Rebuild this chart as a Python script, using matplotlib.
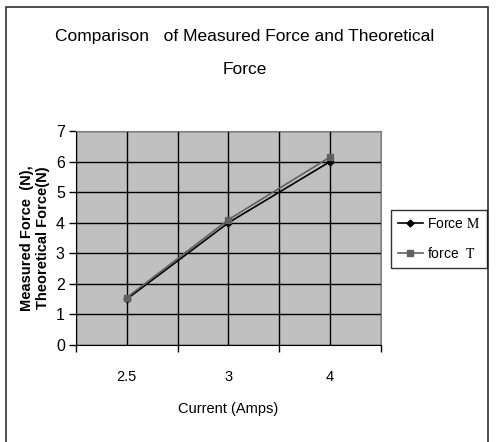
import matplotlib
matplotlib.use("Agg")
import matplotlib.pyplot as plt
from matplotlib.patches import Rectangle

# data
current = ["2.5", "3", "4"]
force_m = [1.5, 4.0, 6.0]
force_t = [1.55, 4.1, 6.15]

plt.rcParams['font.family'] = ['Liberation Sans', 'DejaVu Sans']
plt.rcParams['mathtext.fontset'] = 'stix'

fig = plt.figure(figsize=(4.96, 4.42), dpi=100)
ax = fig.add_axes([0.153, 0.2195, 0.615, 0.484])
ax.set_facecolor('#c0c0c0')

x = list(range(len(current)))
ax.plot(x, force_m, color='black', lw=1.2, marker='D', ms=3.5,
        label='Force $\\mathrm{M}$', zorder=3)
ax.plot(x, force_t, color='#606060', lw=1.2, marker='s', ms=5,
        label='force  $\\mathrm{T}$', zorder=3)

ax.set_xlim(-0.5, len(current) - 0.5)
ax.set_ylim(0, 7)
ax.set_yticks(range(0, 8))
ax.set_xticks([i - 0.5 for i in range(len(current) + 1)])
ax.set_xticklabels([])
ax.set_xticks(x, minor=True)
ax.set_xticklabels(current, minor=True)
ax.tick_params(axis='x', which='major', length=5, width=1, color='black', direction='out')
ax.tick_params(axis='x', which='minor', length=0, pad=18, labelsize=10.5)
ax.tick_params(axis='y', length=5, width=1, direction='out', labelsize=11.5, pad=3)

ax.grid(True, which='both', color='black', lw=1)
ax.set_axisbelow(True)
for s in ['top', 'right']:
    ax.spines[s].set_color('#808080')
for s in ['left', 'bottom']:
    ax.spines[s].set_color('black')

ax.set_xlabel('Current (Amps)', fontsize=10.5, labelpad=13)
ax.set_ylabel('Measured Force  (N),\nTheoretical Force(N)', fontsize=10.5,
              fontweight='bold', labelpad=4)

fig.text(0.494, 0.879, 'Comparison   of Measured Force and Theoretical\nForce',
         ha='center', va='center', fontsize=12.5, linespacing=2.5)

leg = fig.legend(loc='center', bbox_to_anchor=(0.885, 0.459), frameon=True,
                 fancybox=False, edgecolor='black', fontsize=10, handlelength=1.8,
                 borderpad=0.5, labelspacing=1.05, handletextpad=0.3,
                 borderaxespad=0)
leg.get_frame().set_linewidth(1)

# outer chart border
fig.patches.append(Rectangle((6 / 496, -0.01), 482 / 496, 1 - 7 / 442 + 0.01,
                             transform=fig.transFigure, fill=False,
                             edgecolor='#303030', lw=1.2))

fig.savefig('out.png', dpi=100)
